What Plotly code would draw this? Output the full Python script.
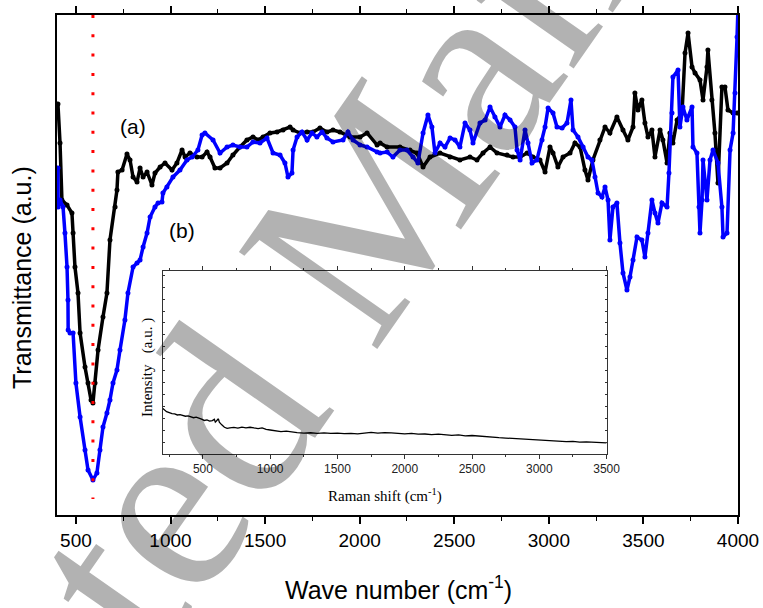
import plotly.graph_objects as go

# ---- FTIR spectra (transmittance, arbitrary units) ----
wn_a = [405, 416, 426, 453, 479, 485, 495, 511, 522, 548, 564, 580, 590, 601, 617, 643, 664, 680,
        707, 717, 722, 744, 770, 786, 802, 823, 839, 855, 876, 902, 918, 945, 971, 1008, 1034, 1061,
        1077, 1103, 1140, 1167, 1193, 1209, 1235, 1262, 1299, 1330, 1367, 1404, 1436, 1463, 1489,
        1526, 1563, 1595, 1632, 1648, 1685, 1722, 1753, 1790, 1827, 1859, 1896, 1949, 2002, 2039,
        2092, 2108, 2145, 2213, 2266, 2303, 2335, 2372, 2425, 2478, 2530, 2583, 2620, 2652, 2689,
        2726, 2779, 2811, 2848, 2885, 2916, 2953, 2980, 3006, 3022, 3048, 3075, 3112, 3138, 3165,
        3191, 3207, 3233, 3270, 3297, 3323, 3360, 3392, 3418, 3445, 3455, 3471, 3492, 3508, 3524,
        3545, 3561, 3588, 3603, 3625, 3640, 3656, 3678, 3704, 3720, 3736, 3757, 3773, 3799, 3815,
        3836, 3841, 3862, 3878, 3894, 3915, 3931, 3947, 3974, 3995]
tr_a = [82.2, 74.4, 63.0, 62.0, 60.4, 56.4, 49.6, 44.4, 36.4, 29.6, 26.4, 23.0, 22.4, 26.4, 33.0,
        39.6, 44.4, 55.0, 61.6, 65.0, 68.6, 69.0, 72.2, 71.0, 67.6, 66.6, 69.4, 67.6, 68.6, 66.0,
        68.4, 69.6, 70.4, 69.0, 70.4, 73.0, 71.6, 72.4, 71.6, 71.6, 72.6, 71.6, 69.4, 69.4, 70.4,
        72.0, 73.6, 75.0, 75.6, 75.0, 75.6, 76.4, 76.6, 77.0, 77.6, 77.0, 76.4, 76.6, 76.6, 77.4,
        76.6, 77.0, 76.6, 75.6, 75.6, 76.4, 74.0, 74.4, 73.6, 73.6, 73.0, 72.4, 69.6, 71.6, 72.4,
        71.6, 71.0, 71.6, 71.0, 72.4, 73.6, 72.4, 72.0, 71.6, 71.6, 72.4, 71.6, 71.0, 68.6, 73.6,
        72.4, 69.6, 71.6, 72.4, 74.4, 73.6, 69.0, 67.0, 71.0, 75.0, 77.6, 76.4, 79.6, 77.0, 75.0,
        77.6, 84.4, 81.0, 83.0, 78.4, 75.6, 77.0, 71.6, 77.0, 75.0, 70.4, 76.4, 74.4, 79.0, 80.4,
        92.4, 96.4, 89.6, 88.4, 87.0, 83.0, 89.6, 93.0, 83.0, 76.4, 66.4, 85.6, 85.6, 81.0, 80.4,
        80.4]

wn_b = [405, 406, 416, 432, 442, 453, 458, 459, 469, 485, 500, 522, 548, 564, 590, 611, 627, 643,
        664, 680, 696, 717, 733, 759, 775, 802, 823, 839, 855, 876, 892, 918, 934, 955, 960, 981,
        1013, 1050, 1087, 1114, 1145, 1167, 1182, 1225, 1262, 1299, 1330, 1367, 1404, 1436, 1473,
        1510, 1542, 1579, 1605, 1621, 1642, 1648, 1669, 1695, 1722, 1748, 1774, 1801, 1827, 1859,
        1912, 1938, 1965, 2002, 2039, 2092, 2108, 2145, 2176, 2213, 2250, 2282, 2308, 2335, 2361,
        2382, 2398, 2425, 2451, 2478, 2504, 2530, 2557, 2583, 2599, 2636, 2663, 2689, 2715, 2742,
        2768, 2795, 2821, 2832, 2848, 2874, 2890, 2911, 2937, 2964, 2980, 2996, 3022, 3043, 3070,
        3096, 3117, 3128, 3154, 3181, 3207, 3228, 3244, 3260, 3281, 3297, 3313, 3323, 3339, 3360,
        3376, 3392, 3413, 3429, 3445, 3466, 3492, 3508, 3524, 3545, 3561, 3577, 3598, 3625, 3635,
        3651, 3656, 3683, 3693, 3709, 3730, 3757, 3762, 3783, 3794, 3799, 3810, 3815, 3836, 3852,
        3868, 3894, 3915, 3921, 3942, 3958, 3974, 3984, 3995, 3999]
tr_b = [69.4, 61.6, 63.0, 61.6, 56.4, 49.6, 43.0, 37.0, 36.4, 36.4, 26.4, 19.6, 13.0, 9.0, 7.0,
        8.4, 13.0, 17.6, 20.4, 23.0, 26.4, 29.0, 33.0, 39.0, 44.4, 49.6, 50.4, 51.0, 53.6, 56.4,
        59.6, 61.6, 62.4, 62.6, 64.4, 65.6, 67.6, 69.0, 71.0, 71.6, 73.0, 76.0, 76.4, 75.0, 72.4,
        73.6, 74.0, 73.6, 73.6, 74.6, 74.4, 75.4, 72.4, 72.0, 70.4, 67.6, 68.4, 73.0, 75.6, 76.6,
        75.0, 76.4, 75.6, 76.6, 75.4, 74.6, 75.0, 76.6, 75.0, 74.0, 73.6, 72.6, 72.4, 72.6, 71.6,
        73.0, 73.0, 71.6, 70.4, 76.4, 80.0, 77.6, 72.4, 74.4, 73.6, 75.4, 75.0, 73.6, 78.4, 77.0,
        74.4, 78.4, 79.0, 81.6, 79.6, 77.6, 80.0, 79.0, 77.6, 73.0, 71.0, 77.0, 74.4, 70.4, 71.0,
        75.0, 77.6, 81.4, 80.4, 77.6, 77.4, 78.4, 83.0, 77.0, 75.6, 73.6, 71.6, 71.0, 67.6, 64.4,
        63.6, 65.6, 63.0, 55.0, 61.6, 62.4, 54.4, 48.4, 45.0, 47.6, 51.0, 55.6, 55.0, 51.6, 56.4,
        63.0, 60.4, 58.4, 62.4, 61.6, 68.4, 80.4, 87.6, 89.0, 77.6, 81.6, 79.0, 81.6, 73.6, 72.4,
        61.6, 56.4, 63.0, 71.0, 63.0, 71.0, 73.0, 70.4, 61.6, 55.6, 56.4, 73.0, 76.4, 84.4, 95.6,
        100.4]

# Fe-O band position marked by the dotted guide
band_position = 590

# ---- Raman spectrum for the inset ----
raman_shift = [200, 215, 230, 250, 270, 290, 310, 330, 350, 370, 390, 410, 430, 450, 470, 490, 510,
               530, 550, 570, 585, 592, 600, 608, 615, 622, 628, 640, 660, 680, 700, 730, 760, 790,
               820, 850, 880, 910, 940, 970, 1000, 1040, 1080, 1120, 1160, 1200, 1250, 1300, 1350,
               1400, 1450, 1500, 1550, 1600, 1650, 1700, 1750, 1800, 1850, 1900, 1950, 2000, 2050,
               2100, 2150, 2200, 2250, 2300, 2350, 2400, 2450, 2500, 2550, 2600, 2650, 2700, 2750,
               2800, 2850, 2900, 2950, 3000, 3050, 3100, 3150, 3200, 3250, 3300, 3350, 3400, 3450,
               3500]
raman_int = [24.9, 23.8, 23.1, 22.6, 22.0, 21.9, 21.3, 21.5, 20.9, 20.6, 20.8, 20.2, 19.8, 20.1,
             19.7, 19.0, 18.3, 18.6, 17.9, 18.2, 18.9, 17.4, 18.0, 18.6, 19.2, 17.3, 16.6, 15.9,
             14.6, 14.0, 14.3, 14.5, 14.1, 14.7, 14.3, 14.6, 14.2, 13.9, 14.2, 13.4, 13.1, 12.6,
             12.2, 12.5, 11.9, 11.7, 11.4, 11.6, 11.3, 11.5, 11.2, 11.4, 11.1, 11.3, 11.0, 11.6,
             11.8, 11.4, 11.7, 11.5, 11.2, 11.0, 11.3, 10.8, 10.9, 10.6, 10.8, 10.4, 10.2, 10.4,
             9.9, 10.1, 9.7, 9.5, 9.2, 8.9, 8.7, 8.5, 8.1, 7.8, 7.6, 7.3, 7.4, 6.9, 7.1, 6.8, 6.9,
             6.5, 6.6, 6.3, 6.4, 6.1]

main_ticks = [500, 1000, 1500, 2000, 2500, 3000, 3500, 4000]
inset_ticks = [500, 1000, 1500, 2000, 2500, 3000, 3500]

W, H = 763, 608
ML, MR, MT, MB = 57, 25, 15, 93

fig = go.Figure()

fig.add_trace(go.Scatter(x=wn_a, y=tr_a, mode="lines+markers",
                         line=dict(color="black", width=3.5),
                         marker=dict(color="black", size=5), showlegend=False))
fig.add_trace(go.Scatter(x=wn_b, y=tr_b, mode="lines+markers",
                         line=dict(color="#0000ff", width=3.5),
                         marker=dict(color="#0000ff", size=5), showlegend=False))
fig.add_trace(go.Scatter(x=[band_position, band_position], y=[100, 3.2], mode="lines",
                         line=dict(color="red", width=3, dash="3px,16.3px"),
                         showlegend=False))

fig.add_trace(go.Scatter(x=raman_shift, y=raman_int, mode="lines",
                         line=dict(color="black", width=1.3),
                         xaxis="x2", yaxis="y2", showlegend=False))

sans = "Liberation Sans, Arial, sans-serif"
serif = "Liberation Serif, Times New Roman, serif"

fig.update_layout(
    width=W, height=H,
    margin=dict(l=ML, r=MR, t=MT, b=MB),
    paper_bgcolor="white", plot_bgcolor="white",
    xaxis=dict(range=[400, 4000], tickvals=main_ticks, ticks="outside", ticklen=7,
               tickwidth=1.5, tickcolor="black", showline=True, linecolor="black",
               linewidth=2, mirror="allticks", showgrid=False, zeroline=False,
               automargin=False,
               minor=dict(dtick=250, tick0=0, ticks="outside", ticklen=4, tickcolor="black",
                          tickwidth=1.2),
               tickfont=dict(family=sans, size=19, color="black")),
    yaxis=dict(range=[0, 100], showticklabels=False, ticks="", showline=True,
               linecolor="black", linewidth=2, mirror=True, showgrid=False, zeroline=False,
               automargin=False),
    xaxis2=dict(domain=[0.155, 0.807], anchor="y2", range=[200, 3500], tickvals=inset_ticks,
                ticks="outside", ticklen=4, tickcolor="#333", showline=True,
                linecolor="#333", linewidth=1, mirror="allticks", showgrid=False,
                zeroline=False, automargin=False,
                minor=dict(dtick=250, tick0=0, ticks="outside", ticklen=2, tickcolor="#333"),
                tickfont=dict(family=sans, size=12, color="#222")),
    yaxis2=dict(domain=[0.122, 0.4886], anchor="x2", range=[0, 100], dtick=6.5,
                ticks="inside", ticklen=2, tickcolor="#333", showticklabels=False,
                showline=True, linecolor="#333", linewidth=1, mirror="allticks",
                showgrid=False, zeroline=False, automargin=False),
)

def px_x(px):
    return (px - ML) / (W - ML - MR)

def px_y(py):
    return (H - MB - py) / (H - MT - MB)

annotations = [
    dict(text="Wave number (cm<sup>-1</sup>)", x=px_x(398), y=px_y(588),
         font=dict(family=sans, size=25, color="black")),
    dict(text="Transmittance (a.u.)", x=px_x(22), y=px_y(278), textangle=-90,
         font=dict(family=sans, size=25, color="black")),
    dict(text="(a)", x=px_x(133), y=px_y(127), font=dict(family=sans, size=21, color="black")),
    dict(text="(b)", x=px_x(182), y=px_y(230), font=dict(family=sans, size=21, color="black")),
    dict(text="Raman shift (cm<sup>-1</sup>)", x=px_x(385), y=px_y(495),
         font=dict(family=serif, size=15, color="black")),
    dict(text="Intensity   (a.u. )", x=px_x(147), y=px_y(368), textangle=-90,
         font=dict(family=serif, size=15, color="black")),
    dict(text="Accepted Manuscript", x=px_x(341), y=px_y(249), textangle=-55,
         font=dict(family=serif, size=258, color="rgba(0,0,0,0.3)")),
]
for a in annotations:
    a.update(xref="paper", yref="paper", showarrow=False, xanchor="center", yanchor="middle")
fig.update_layout(annotations=annotations)

fig.write_html("out.html")
